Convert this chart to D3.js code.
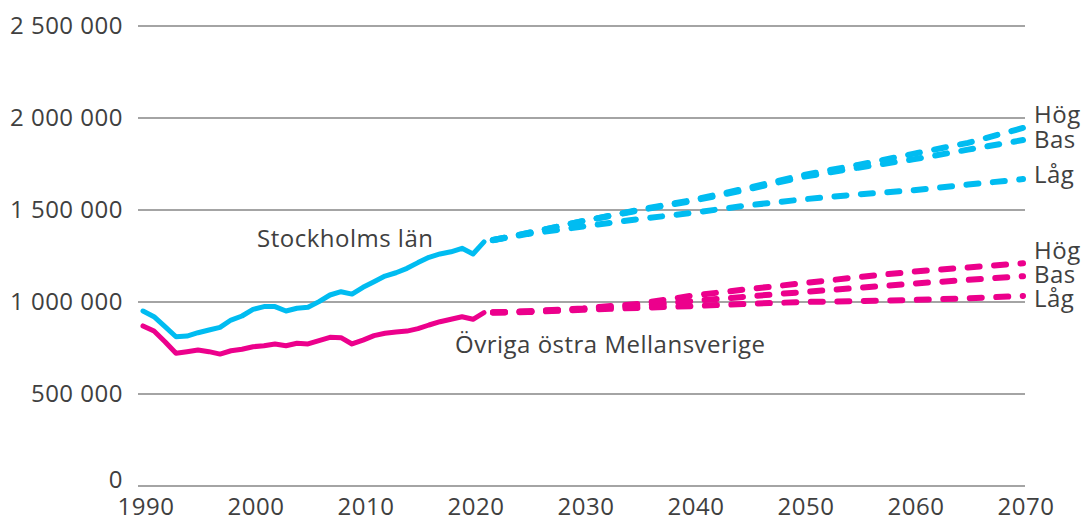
<!DOCTYPE html>
<html>
<head>
<meta charset="utf-8">
<script src="https://cdn.jsdelivr.net/npm/d3@7"></script>
<style>
  html, body { margin: 0; padding: 0; background: #fff; }
  svg { display: block; }
  text { font-family: "Open Sans", "Noto Sans", sans-serif; fill: #404040; letter-spacing: 0.5px; }
</style>
</head>
<body>
<svg id="chart" width="1084" height="518"></svg>
<script>
// ---- data ----
const histYears = d3.range(1990, 2022);
const stockholmHist = [951000, 920000, 866000, 811000, 815000, 833000, 848000, 862000, 902000, 924000,
  960000, 975000, 975000, 951000, 966000, 971000, 1002000, 1038000, 1056000, 1043000,
  1080000, 1110000, 1141000, 1159000, 1183000, 1214000, 1243000, 1261000, 1273000, 1292000,
  1261000, 1327000];
const ovrigaHist = [870000, 842000, 784000, 721000, 730000, 739000, 730000, 717000, 735000, 743000,
  757000, 762000, 772000, 762000, 776000, 772000, 790000, 808000, 806000, 772000,
  793000, 817000, 830000, 837000, 842000, 855000, 875000, 893000, 906000, 920000,
  906000, 942000];

const projYears = [2021, 2025, 2030, 2035, 2040, 2045, 2050, 2055, 2060, 2065, 2070];
const stockholmHog = [1327000, 1375000, 1440000, 1500000, 1555000, 1620000, 1690000, 1745000, 1805000, 1865000, 1946000];
const stockholmBas = [1327000, 1375000, 1440000, 1497000, 1550000, 1612000, 1680000, 1730000, 1775000, 1828000, 1880000];
const stockholmLag = [1327000, 1370000, 1410000, 1450000, 1485000, 1525000, 1558000, 1585000, 1607000, 1638000, 1668000];
const ovrigaHog = [942000, 950000, 965000, 990000, 1035000, 1070000, 1102000, 1135000, 1165000, 1188000, 1210000];
const ovrigaBas = [942000, 948000, 962000, 980000, 1005000, 1030000, 1054000, 1077000, 1100000, 1120000, 1140000];
const ovrigaLag = [942000, 945000, 958000, 968000, 978000, 990000, 1000000, 1005000, 1011000, 1020000, 1033000];

const yTicks = [0, 500000, 1000000, 1500000, 2000000, 2500000];
const xTicks = [1990, 2000, 2010, 2020, 2030, 2040, 2050, 2060, 2070];
const scenarioLabels = ["Hög", "Bas", "Låg"];
const seriesNames = ["Stockholms län", "Övriga östra Mellansverige"];

// ---- setup ----
const svg = d3.select("#chart");
const x = d3.scaleLinear().domain([1990, 2070]).range([143, 1023]);
const y = d3.scaleLinear().domain([0, 2500000]).range([486, 26]);
const cyan = "#00bcf1";
const magenta = "#ec008c";
const fmt = v => d3.format(",")(v).replace(/,/g, " ");
const FS = 24;

// gridlines
svg.append("g").selectAll("line").data(yTicks).join("line")
  .attr("x1", 138).attr("x2", 1025)
  .attr("y1", d => y(d)).attr("y2", d => y(d))
  .attr("stroke", "#4a4a4a").attr("stroke-width", 1.2);

// y labels
svg.append("g").selectAll("text").data(yTicks).join("text")
  .attr("x", 123)
  .attr("y", d => y(d) + (d === 0 ? 2 : 8))
  .attr("text-anchor", "end")
  .attr("font-size", FS)
  .text(d => fmt(d));

// x labels
svg.append("g").selectAll("text").data(xTicks).join("text")
  .attr("x", d => x(d) + 3)
  .attr("y", 515)
  .attr("text-anchor", "middle")
  .attr("font-size", FS)
  .text(d => d);

const line = d3.line().x(d => x(d[0])).y(d => y(d[1]));

function solid(vals, color) {
  svg.append("path")
    .attr("d", line(histYears.map((yr, i) => [yr, vals[i]])))
    .attr("fill", "none").attr("stroke", color).attr("stroke-width", 5)
    .attr("stroke-linejoin", "round").attr("stroke-linecap", "round");
}
function dashed(vals, color) {
  svg.append("path")
    .attr("d", line(projYears.map((yr, i) => [yr, vals[i]])))
    .attr("fill", "none").attr("stroke", color).attr("stroke-width", 6)
    .attr("stroke-dasharray", "12,14.5")
    .attr("stroke-dashoffset", -9)
    .attr("stroke-linecap", "round");
}

solid(stockholmHist, cyan);
solid(ovrigaHist, magenta);
[stockholmLag, stockholmBas, stockholmHog].forEach(v => dashed(v, cyan));
[ovrigaLag, ovrigaBas, ovrigaHog].forEach(v => dashed(v, magenta));

// series labels
svg.append("text").attr("x", 257).attr("y", 247).attr("font-size", FS).text(seriesNames[0]);
svg.append("text").attr("x", 455).attr("y", 353).attr("font-size", FS).text(seriesNames[1]);

// scenario labels
const stockBase = [123, 148, 183];
const ovrBase = [259, 283, 307];
scenarioLabels.forEach((t, i) => {
  svg.append("text").attr("x", 1034).attr("y", stockBase[i]).attr("font-size", FS).text(t);
  svg.append("text").attr("x", 1034).attr("y", ovrBase[i]).attr("font-size", FS).text(t);
});
</script>
</body>
</html>
